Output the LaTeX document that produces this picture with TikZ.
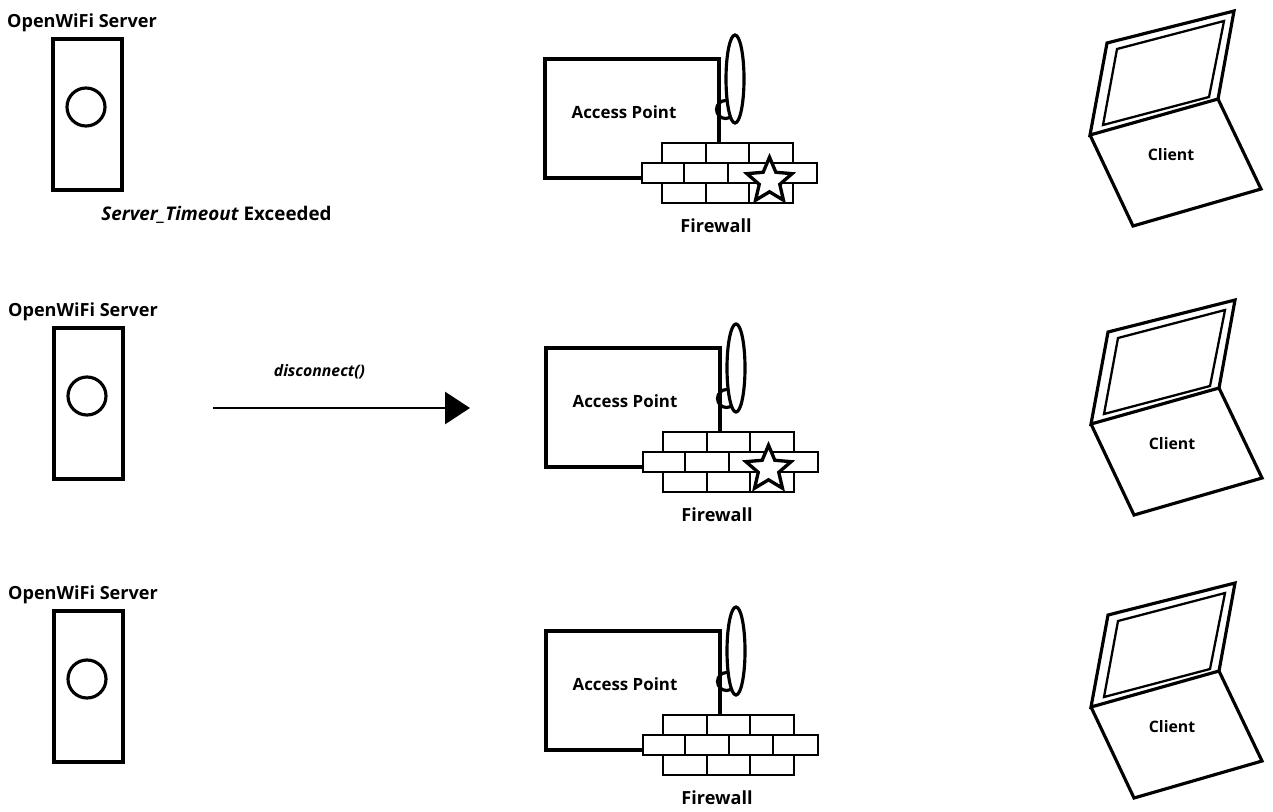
\documentclass[tikz,border=0pt]{standalone}
\usepackage{fontspec}
\setmainfont{Open Sans}
\usetikzlibrary{arrows.meta,shapes.geometric}
\tikzset{
  label text/.style={font=\bfseries\fontsize{10.3}{12}\selectfont, inner sep=0pt},
  device line/.style={line width=1.8pt, line join=miter},
  brick line/.style={line width=1.2pt},
  fw star/.style={star, star points=5, star point ratio=2.2, draw, line width=1.9pt, fill=white, minimum size=0.95cm, inner sep=0pt}
}
\begin{document}
\begin{tikzpicture}[x=0.02cm, y=-0.02cm]
  \useasboundingbox (0,0) rectangle (1273,811);
  \foreach \rowid/\dy/\dx in {a/0/0, b/289/1, c/572/1} {
    \begin{scope}[shift={(\dx,\dy)}]
      % sunucu
      \node[label text] (server\rowid) at (82,23) {OpenWiFi Server};
      \draw[device line] (53,39) rectangle (122,190);
      \draw[device line] (86,107) circle [radius=19];
      % erisim noktasi ve anten
      \draw[device line] (719,143) -- (719,59) -- (545,59) -- (545,178) -- (642,178);
      \draw[device line] (725.5,109.5) circle [radius=9];
      \draw[device line, fill=white] (735,79) ellipse [x radius=9, y radius=44];
      \node[label text, font=\bfseries\fontsize{9.6}{12}\selectfont] (ap\rowid) at (624,112) {Access Point};
      % guvenlik duvari
      \draw[brick line] (662,143) rectangle (793,163);
      \draw[brick line] (642,163) rectangle (817,183);
      \draw[brick line] (662,183) rectangle (793,203);
      \draw[brick line] (706,143) -- (706,163) (749,143) -- (749,163);
      \draw[brick line] (684,163) -- (684,183) (728,163) -- (728,183) (772,163) -- (772,183);
      \draw[brick line] (706,183) -- (706,203) (749,183) -- (749,203);
      \node[label text] (fw\rowid) at (716,226) {Firewall};
      % dizustu
      \draw[device line] (1090,135) -- (1107,43) -- (1234,11) -- (1218,99) -- cycle;
      \draw[line width=1.3pt] (1103,125) -- (1117,49) -- (1224,21) -- (1209,97) -- cycle;
      \draw[device line] (1090,135) -- (1133,226) -- (1261,189) -- (1218,99);
      \node[label text, font=\bfseries\fontsize{9}{11}\selectfont] (client\rowid) at (1171,155) {Client};
    \end{scope}
  }
  % yildizlar
  \node[fw star] (stara) at (769.5,181) {};
  \node[fw star] (starb) at (768.5,469) {};
  % zaman asimi ve mesaj
  \node[label text, font=\bfseries\fontsize{10.7}{12}\selectfont] (timeout) at (216.5,215) {\textit{Server\_Timeout} Exceeded};
  \node[label text, font=\bfseries\itshape\fontsize{9}{10}\selectfont] (disconnect) at (319.5,372) {disconnect()};
  \coordinate (msgstart) at (213,408);
  \coordinate (msgend) at (470,408);
  \draw[line width=1.7pt, -{Triangle[length=0.5cm, width=0.64cm]}] (msgstart) -- (msgend);
\end{tikzpicture}
\end{document}
